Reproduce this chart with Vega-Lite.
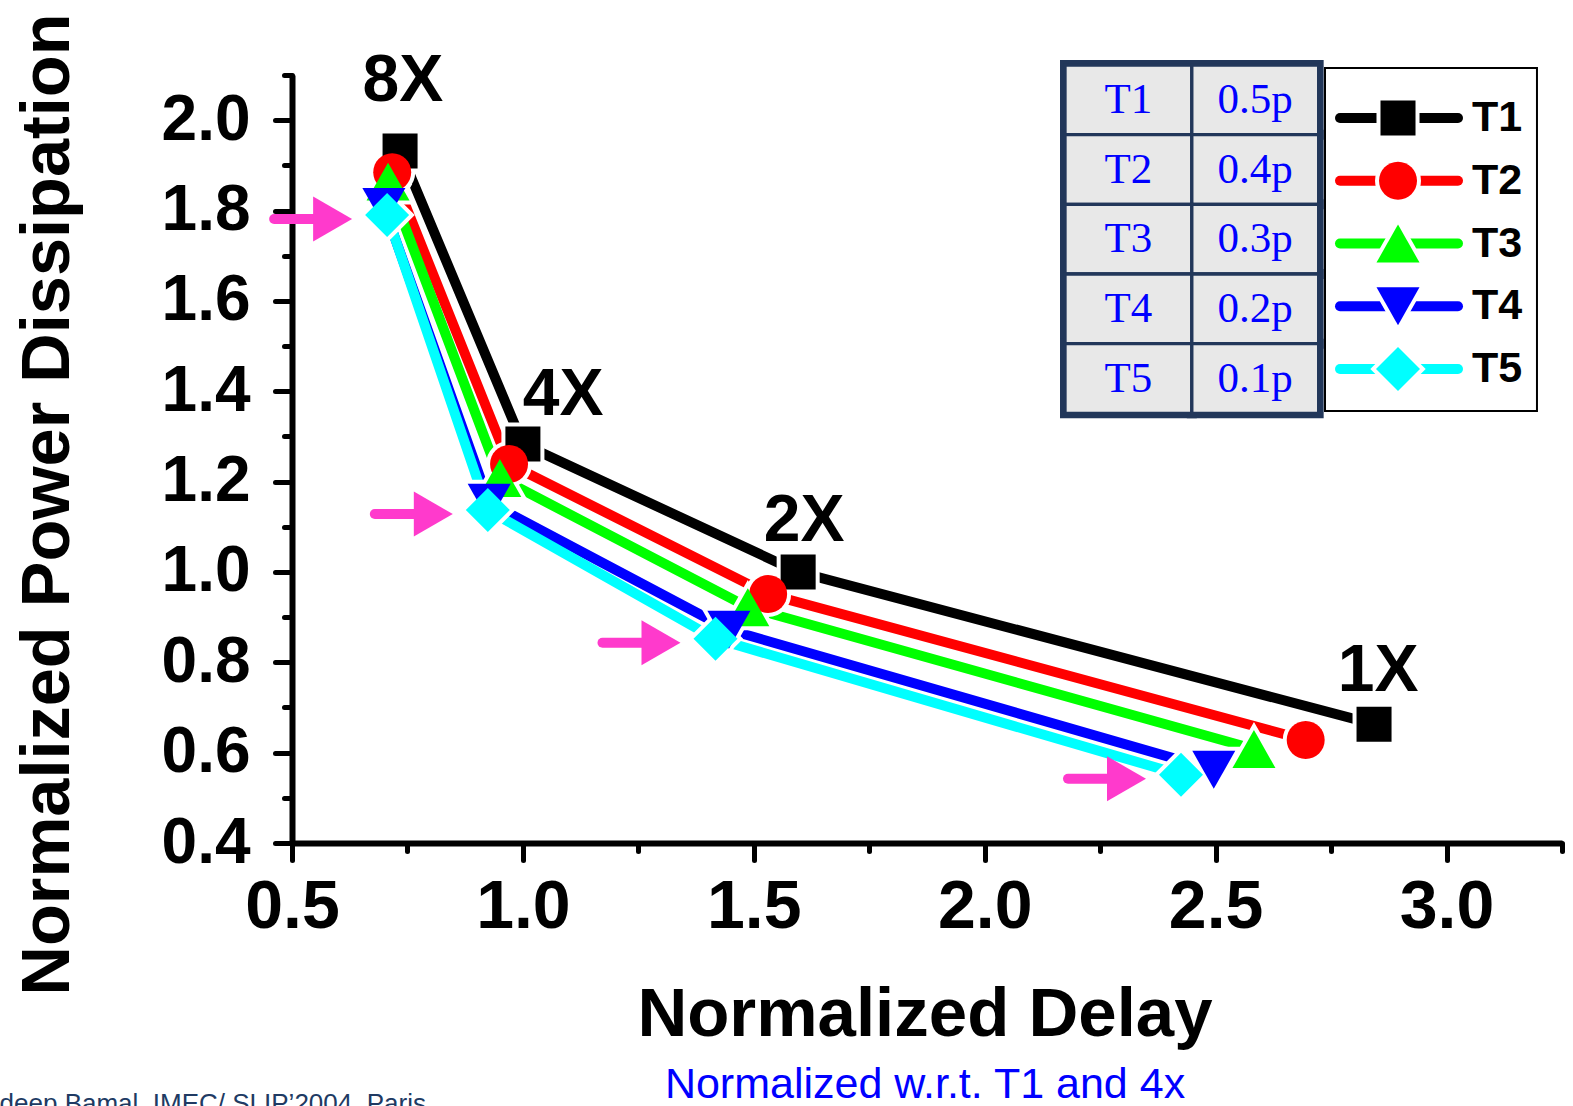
{
  "$schema": "https://vega.github.io/schema/vega-lite/v6.json",
  "width": 1270,
  "height": 768,
  "autosize": {"type": "none"},
  "padding": {"left": 292, "top": 75, "right": 11, "bottom": 263},
  "background": "white",
  "config": {"view": {"stroke": null}, "legend": {"disable": true}},
  "datasets": {
    "main": [
      {"series": "T1", "x": 0.734, "y": 1.932},
      {"series": "T1", "x": 1.000, "y": 1.283},
      {"series": "T1", "x": 1.596, "y": 1.000},
      {"series": "T1", "x": 2.843, "y": 0.663},
      {"series": "T2", "x": 0.717, "y": 1.885},
      {"series": "T2", "x": 0.970, "y": 1.239},
      {"series": "T2", "x": 1.531, "y": 0.951},
      {"series": "T2", "x": 2.695, "y": 0.628},
      {"series": "T3", "x": 0.708, "y": 1.864},
      {"series": "T3", "x": 0.950, "y": 1.208},
      {"series": "T3", "x": 1.487, "y": 0.922},
      {"series": "T3", "x": 2.583, "y": 0.608},
      {"series": "T4", "x": 0.699, "y": 1.808},
      {"series": "T4", "x": 0.927, "y": 1.153},
      {"series": "T4", "x": 1.446, "y": 0.872},
      {"series": "T4", "x": 2.496, "y": 0.562},
      {"series": "T5", "x": 0.706, "y": 1.790},
      {"series": "T5", "x": 0.924, "y": 1.137},
      {"series": "T5", "x": 1.417, "y": 0.852},
      {"series": "T5", "x": 2.425, "y": 0.551}
    ],
    "legend": [
      {"series": "T1"}, {"series": "T2"}, {"series": "T3"}, {"series": "T4"}, {"series": "T5"}
    ],
    "table": [
      {"row": "T1", "col": "a", "label": "T1"}, {"row": "T1", "col": "b", "label": "0.5p"},
      {"row": "T2", "col": "a", "label": "T2"}, {"row": "T2", "col": "b", "label": "0.4p"},
      {"row": "T3", "col": "a", "label": "T3"}, {"row": "T3", "col": "b", "label": "0.3p"},
      {"row": "T4", "col": "a", "label": "T4"}, {"row": "T4", "col": "b", "label": "0.2p"},
      {"row": "T5", "col": "a", "label": "T5"}, {"row": "T5", "col": "b", "label": "0.1p"}
    ]
  },
  "layer": [
    {
      "data": {"name": "table"},
      "encoding": {
        "x": {"field": "col", "type": "nominal", "scale": {"type": "band", "domain": ["a", "b"], "range": [773, 1026.65], "paddingInner": 0, "paddingOuter": 0}, "axis": null},
        "y": {"field": "row", "type": "nominal", "scale": {"type": "band", "domain": ["T1", "T2", "T3", "T4", "T5"], "range": [-10, 338.35], "paddingInner": 0, "paddingOuter": 0}, "axis": null}
      },
      "layer": [
        {"mark": {"type": "rect", "fill": "#22375a", "stroke": "#22375a", "strokeWidth": 10}},
        {"mark": {"type": "rect", "fill": "#e8e8e8", "stroke": "#22375a", "strokeWidth": 3.3}},
        {"mark": {"type": "text", "font": "Liberation Serif", "fontSize": 43, "color": "#0000ff", "align": "center", "baseline": "middle"},
         "encoding": {"text": {"field": "label"}}}
      ]
    },
    {
      "data": {"name": "main"},
      "layer": [
        {
          "mark": {"type": "line", "strokeWidth": 10, "strokeCap": "round", "strokeJoin": "round"},
          "encoding": {
            "x": {"field": "x", "type": "quantitative", "scale": {"domain": [0.5, 3.25], "nice": false, "zero": false},
              "axis": {"orient": "bottom", "values": [0.5, 1, 1.5, 2, 2.5, 3], "format": ".1f", "grid": false,
                "labelFont": "Liberation Sans", "labelFontWeight": "bold", "labelFontSize": 68, "labelColor": "black", "labelPadding": 13,
                "labelOverlap": false, "labelFlush": false, "labelBound": false,
                "tickSize": 17, "tickWidth": 5, "tickColor": "black", "tickCap": "round",
                "domainWidth": 6, "domainColor": "black",
                "title": "Normalized Delay", "titleFont": "Liberation Sans", "titleFontWeight": "bold", "titleFontSize": 69, "titleColor": "black",
                "titleX": 632.5, "titleY": 192, "titleAlign": "center", "titleBaseline": "alphabetic"}},
            "y": {"field": "y", "type": "quantitative", "scale": {"domain": [0.4, 2.1], "nice": false, "zero": false},
              "axis": {"orient": "left", "values": [0.4, 0.6, 0.8, 1.0, 1.2, 1.4, 1.6, 1.8, 2.0], "format": ".1f", "grid": false,
                "labelFont": "Liberation Sans", "labelFontWeight": "bold", "labelFontSize": 64, "labelColor": "black", "labelPadding": 25,
                "labelOverlap": false, "labelFlush": false, "labelBound": false,
                "tickSize": 17, "tickWidth": 5, "tickColor": "black", "tickCap": "round",
                "domainWidth": 6, "domainColor": "black",
                "title": "Normalized Power Dissipation", "titleFont": "Liberation Sans", "titleFontWeight": "bold", "titleFontSize": 68.5, "titleColor": "black",
                "titleX": -245, "titleY": 429, "titleAngle": 270, "titleAlign": "center", "titleBaseline": "middle"}},
            "color": {"field": "series", "type": "nominal", "scale": {"domain": ["T1", "T2", "T3", "T4", "T5"], "range": ["#000000", "#ff0000", "#00ff00", "#0000ff", "#00ffff"]}, "legend": null}
          }
        },
        {
          "mark": {"type": "point", "filled": true, "fill": "white", "stroke": "white", "strokeWidth": 8, "size": 2025, "opacity": 1},
          "encoding": {
            "x": {"field": "x", "type": "quantitative"},
            "y": {"field": "y", "type": "quantitative"},
            "shape": {"field": "series", "type": "nominal", "scale": {"domain": ["T1", "T2", "T3", "T4", "T5"], "range": ["M-0.778,-0.778H0.778V0.778H-0.778Z", "M-0.844,0A0.844,0.844,0,1,1,0.844,0A0.844,0.844,0,1,1,-0.844,0Z", "M0,-0.844L0.956,0.844L-0.956,0.844Z", "M0,0.844L-0.956,-0.844L0.956,-0.844Z", "M0,-0.978L0.978,0L0,0.978L-0.978,0Z"]}, "legend": null}
          }
        },
        {
          "mark": {"type": "point", "filled": true, "size": 2025, "opacity": 1, "strokeWidth": 0},
          "encoding": {
            "x": {"field": "x", "type": "quantitative"},
            "y": {"field": "y", "type": "quantitative"},
            "shape": {"field": "series", "type": "nominal", "legend": null},
            "color": {"field": "series", "type": "nominal", "legend": null}
          }
        },
        {
          "transform": [{"filter": "datum.series === 'T5'"}],
          "mark": {"type": "rule", "color": "#ff3acc", "strokeWidth": 10, "strokeCap": "round", "xOffset": -113, "x2Offset": -54, "yOffset": 4},
          "encoding": {
            "x": {"field": "x", "type": "quantitative"},
            "x2": {"field": "x"},
            "y": {"field": "y", "type": "quantitative"}
          }
        },
        {
          "transform": [{"filter": "datum.series === 'T5'"}],
          "mark": {"type": "point", "shape": "triangle-right", "filled": true, "color": "#ff3acc", "size": 2025, "opacity": 1, "xOffset": -54.5, "yOffset": 4},
          "encoding": {
            "x": {"field": "x", "type": "quantitative"},
            "y": {"field": "y", "type": "quantitative"}
          }
        },
        {
          "data": {"values": [{}]},
          "mark": {"type": "text", "text": "8X", "font": "Liberation Sans", "fontWeight": "bold", "fontSize": 66, "color": "black", "align": "center", "baseline": "middle"},
          "encoding": {"x": {"datum": 0.740, "type": "quantitative"}, "y": {"datum": 2.086, "type": "quantitative"}}
        },
        {
          "data": {"values": [{}]},
          "mark": {"type": "text", "text": "4X", "font": "Liberation Sans", "fontWeight": "bold", "fontSize": 66, "color": "black", "align": "center", "baseline": "middle"},
          "encoding": {"x": {"datum": 1.087, "type": "quantitative"}, "y": {"datum": 1.391, "type": "quantitative"}}
        },
        {
          "data": {"values": [{}]},
          "mark": {"type": "text", "text": "2X", "font": "Liberation Sans", "fontWeight": "bold", "fontSize": 66, "color": "black", "align": "center", "baseline": "middle"},
          "encoding": {"x": {"datum": 1.609, "type": "quantitative"}, "y": {"datum": 1.112, "type": "quantitative"}}
        },
        {
          "data": {"values": [{}]},
          "mark": {"type": "text", "text": "1X", "font": "Liberation Sans", "fontWeight": "bold", "fontSize": 66, "color": "black", "align": "center", "baseline": "middle"},
          "encoding": {"x": {"datum": 2.852, "type": "quantitative"}, "y": {"datum": 0.781, "type": "quantitative"}}
        },
        {
          "data": {"values": [{}]},
          "mark": {"type": "text", "text": "Normalized w.r.t. T1 and 4x", "font": "Liberation Sans", "fontSize": 43, "color": "#0000ff", "align": "center", "baseline": "alphabetic"},
          "encoding": {"x": {"datum": 1.8707, "type": "quantitative"}, "y": {"datum": -0.1645, "type": "quantitative"}}
        },
        {
          "data": {"values": [{}]},
          "mark": {"type": "text", "text": "Mandeep Bamal, IMEC/ SLIP’2004, Paris", "font": "Liberation Sans", "fontSize": 26, "color": "#203a63", "align": "right", "baseline": "alphabetic"},
          "encoding": {"x": {"datum": 0.790, "type": "quantitative"}, "y": {"datum": -0.195, "type": "quantitative"}}
        },
        {
          "data": {"values": [{}]},
          "mark": {"type": "rect", "fill": "white", "stroke": "black", "strokeWidth": 2},
          "encoding": {
            "x": {"datum": 2.7368, "type": "quantitative"}, "x2": {"datum": 3.1958},
            "y": {"datum": 2.1155, "type": "quantitative"}, "y2": {"datum": 1.3563}
          }
        }
      ]
    },
    {
      "data": {"values": [{}]},
      "mark": {"type": "point", "opacity": 0},
      "encoding": {
        "x": {"datum": 1, "type": "quantitative", "scale": {"domain": [0.5, 3.25], "nice": false, "zero": false},
          "axis": {"orient": "bottom", "values": [0.75, 1.25, 1.75, 2.25, 2.75, 3.25], "labels": false, "domain": false, "grid": false, "title": null,
            "tickSize": 8, "tickWidth": 5, "tickColor": "black", "tickCap": "round"}},
        "y": {"datum": 1, "type": "quantitative", "scale": {"domain": [0.4, 2.1], "nice": false, "zero": false},
          "axis": {"orient": "left", "values": [0.5, 0.7, 0.9, 1.1, 1.3, 1.5, 1.7, 1.9, 2.1], "labels": false, "domain": false, "grid": false, "title": null,
            "tickSize": 8, "tickWidth": 5, "tickColor": "black", "tickCap": "round"}}
      }
    },
    {
      "data": {"name": "legend"},
      "encoding": {
        "y": {"field": "series", "type": "nominal", "scale": {"type": "point", "domain": ["T1", "T2", "T3", "T4", "T5"], "range": [43, 294], "padding": 0}, "axis": null}
      },
      "layer": [
        {
          "mark": {"type": "rule", "strokeWidth": 10, "strokeCap": "round"},
          "encoding": {
            "x": {"datum": 2.7693, "type": "quantitative", "scale": {"domain": [0.5, 3.25], "nice": false, "zero": false}, "axis": null},
            "x2": {"datum": 3.0248},
            "color": {"field": "series", "type": "nominal", "legend": null}
          }
        },
        {
          "mark": {"type": "point", "filled": true, "fill": "white", "stroke": "white", "strokeWidth": 8, "size": 2025, "opacity": 1},
          "encoding": {
            "x": {"datum": 2.8949, "type": "quantitative"},
            "shape": {"field": "series", "type": "nominal", "legend": null}
          }
        },
        {
          "mark": {"type": "point", "filled": true, "size": 2025, "opacity": 1, "strokeWidth": 0},
          "encoding": {
            "x": {"datum": 2.8949, "type": "quantitative"},
            "shape": {"field": "series", "type": "nominal", "legend": null},
            "color": {"field": "series", "type": "nominal", "legend": null}
          }
        },
        {
          "mark": {"type": "text", "font": "Liberation Sans", "fontWeight": "bold", "fontSize": 43, "color": "black", "align": "left", "baseline": "middle"},
          "encoding": {
            "x": {"datum": 3.0551, "type": "quantitative"},
            "text": {"field": "series"}
          }
        }
      ]
    }
  ],
  "resolve": {"scale": {"x": "independent", "y": "independent"}, "axis": {"x": "independent", "y": "independent"}}
}
